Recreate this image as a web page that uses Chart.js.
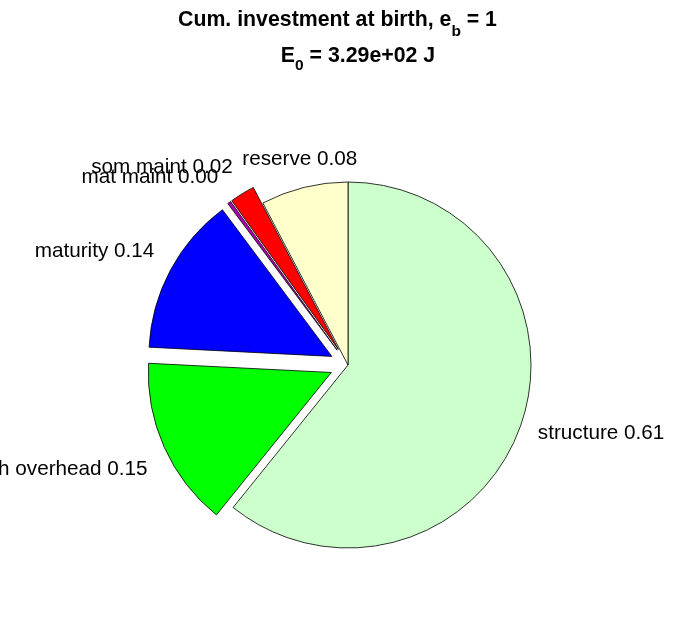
<!DOCTYPE html>
<html>
<head>
<meta charset="utf-8">
<script src="https://cdn.jsdelivr.net/npm/chart.js@4/dist/chart.umd.min.js"></script>
<style>
  html, body { margin: 0; padding: 0; background: #ffffff; }
  #wrap { width: 696px; height: 618px; position: relative; }
  canvas { display: block; }
</style>
</head>
<body>
<div id="wrap"><canvas id="c" width="696" height="618"></canvas></div>
<script>
// ---- data ----
const categories = ['structure', 'growth overhead', 'maturity', 'mat maint', 'som maint', 'reserve'];
const fractions  = [0.608, 0.150, 0.140, 0.003, 0.022, 0.077];
const exploded   = [false, true, true, true, true, false];
const sliceColors = ['#ccffcc', '#00ff00', '#0000ff', '#b000b0', '#ff0000', '#ffffcc'];
const titleLine1 = { main: 'Cum. investment at birth, e', sub: 'b', tail: ' = 1' };
const titleLine2 = { main: 'E', sub: '0', tail: ' = 3.29e+02 J' };

// ---- styling ----
const PIE_RADIUS = 183;
const EXPLODE = 0.1 * PIE_RADIUS;
const LABEL_FONT = '20.7px "Liberation Sans", Arial, Helvetica, sans-serif';
const TITLE_FONT = 'bold 21.3px "Liberation Sans", Arial, Helvetica, sans-serif';
const SUB_FONT = 'bold 15.5px "Liberation Sans", Arial, Helvetica, sans-serif';

const explodePlugin = {
  id: 'explode',
  afterDatasetsUpdate(chart) {
    const meta = chart.getDatasetMeta(0);
    meta.data.forEach((arc, i) => {
      if (exploded[i]) {
        const mid = (arc.startAngle + arc.endAngle) / 2;
        arc.x += Math.cos(mid) * EXPLODE;
        arc.y += Math.sin(mid) * EXPLODE;
      }
    });
  }
};

const labelPlugin = {
  id: 'pieLabels',
  afterDatasetsDraw(chart) {
    const ctx = chart.ctx;
    const meta = chart.getDatasetMeta(0);
    ctx.save();
    ctx.font = LABEL_FONT;
    ctx.fillStyle = '#000000';
    ctx.textBaseline = 'alphabetic';
    const c225 = Math.cos(Math.PI / 8);
    meta.data.forEach((arc, i) => {
      const mid = (arc.startAngle + arc.endAngle) / 2;
      const dx = Math.cos(mid), dy = Math.sin(mid);
      const r = arc.outerRadius * 1.1;
      const ax = arc.x + dx * r;
      const ay = arc.y + dy * r;
      let align, by;
      if (Math.abs(dx) >= c225) {
        align = dx > 0 ? 'left' : 'right';
        by = ay + 7;
      } else if (Math.abs(dy) >= c225) {
        align = 'center';
        by = dy < 0 ? ay - 5 : ay + 20;
      } else {
        align = dx > 0 ? 'left' : 'right';
        by = dy < 0 ? ay - 5 : ay + 20;
      }
      ctx.textAlign = align;
      const txt = categories[i] + ' ' + fractions[i].toFixed(2);
      ctx.fillText(txt, ax, by);
    });
    ctx.restore();
  }
};

function drawSubTitle(ctx, line, cx, baseY, subShift) {
  ctx.font = TITLE_FONT;
  const w1 = ctx.measureText(line.main).width;
  const w3 = ctx.measureText(line.tail).width;
  ctx.font = SUB_FONT;
  const w2 = ctx.measureText(line.sub).width;
  let x = cx - (w1 + w2 + w3) / 2;
  ctx.textAlign = 'left';
  ctx.textBaseline = 'alphabetic';
  ctx.font = TITLE_FONT;
  ctx.fillText(line.main, x, baseY);
  x += w1;
  ctx.font = SUB_FONT;
  ctx.fillText(line.sub, x, baseY + subShift);
  x += w2;
  ctx.font = TITLE_FONT;
  ctx.fillText(line.tail, x, baseY);
}

const titlePlugin = {
  id: 'subTitle',
  afterDraw(chart) {
    const ctx = chart.ctx;
    ctx.save();
    ctx.fillStyle = '#000000';
    drawSubTitle(ctx, titleLine1, 337.5, 26, 10);
    drawSubTitle(ctx, titleLine2, 358, 62, 8);
    ctx.restore();
  }
};

new Chart(document.getElementById('c'), {
  type: 'pie',
  data: {
    labels: categories,
    datasets: [{
      data: fractions,
      backgroundColor: sliceColors,
      borderColor: '#000000',
      borderWidth: 0.8,
      radius: PIE_RADIUS
    }]
  },
  options: {
    responsive: false,
    animation: false,
    devicePixelRatio: 1,
    layout: { padding: { top: 112, bottom: 0, left: 0, right: 0 } },
    events: [],
    plugins: {
      legend: { display: false },
      tooltip: { enabled: false },
      title: { display: false }
    }
  },
  plugins: [explodePlugin, labelPlugin, titlePlugin]
});
</script>
</body>
</html>
